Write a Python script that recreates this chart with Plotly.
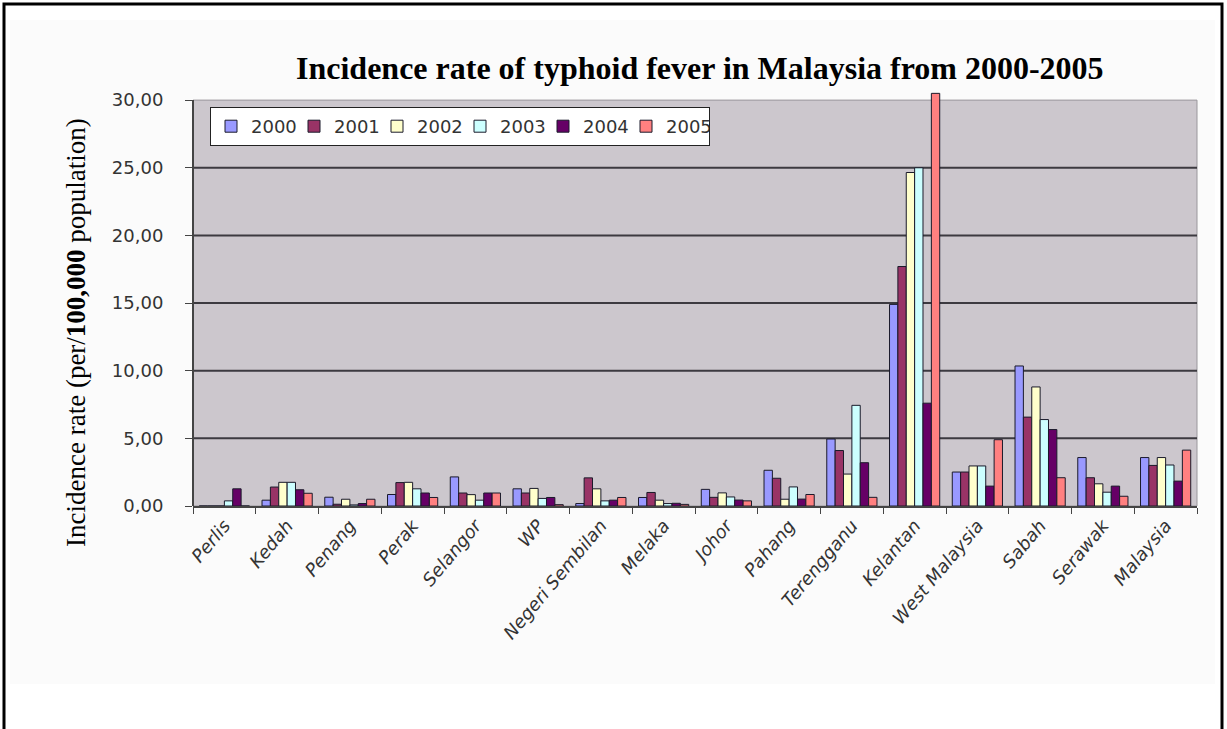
import plotly.graph_objects as go

# Typhoid fever incidence per 100,000 population, by state, 2000-2005
categories = ["Perlis", "Kedah", "Penang", "Perak", "Selangor", "WP",
              "Negeri Sembilan", "Melaka", "Johor", "Pahang", "Terengganu",
              "Kelantan", "West Malaysia", "Sabah", "Serawak", "Malaysia"]

years = ["2000", "2001", "2002", "2003", "2004", "2005"]

rate_2000 = [0.00, 0.43, 0.65, 0.85, 2.15, 1.27, 0.18, 0.63, 1.23, 2.64, 4.95, 14.90, 2.51, 10.35, 3.58, 3.58]
rate_2001 = [0.00, 1.40, 0.13, 1.73, 0.96, 0.96, 2.08, 1.00, 0.64, 2.05, 4.10, 17.70, 2.51, 6.57, 2.09, 3.00]
rate_2002 = [0.00, 1.75, 0.50, 1.75, 0.84, 1.30, 1.27, 0.43, 0.97, 0.50, 2.36, 24.65, 2.96, 8.80, 1.64, 3.58]
rate_2003 = [0.38, 1.75, 0.08, 1.27, 0.43, 0.56, 0.38, 0.18, 0.67, 1.41, 7.44, 25.00, 2.96, 6.39, 1.02, 3.03]
rate_2004 = [1.27, 1.20, 0.18, 0.96, 0.96, 0.63, 0.43, 0.20, 0.44, 0.51, 3.20, 7.60, 1.47, 5.65, 1.47, 1.84]
rate_2005 = [0.00, 0.94, 0.50, 0.63, 0.96, 0.10, 0.63, 0.12, 0.38, 0.85, 0.64, 30.50, 4.90, 2.09, 0.72, 4.13]

series = [rate_2000, rate_2001, rate_2002, rate_2003, rate_2004, rate_2005]
colors = ["#9999FF", "#993366", "#FFFFCC", "#CCFFFF", "#660066", "#FF8080"]

y_ticks = [0, 5, 10, 15, 20, 25, 30]
y_top = 30.6

# page layout in pixels
W, H = 1227, 729
L, R, T, B = 193, 1197, 92, 506
pw, ph = R - L, B - T


def px_x(x):
    return (x - L) / pw


def px_y(y):
    return (B - y) / ph


fig = go.Figure()
for name, vals, col in zip(years, series, colors):
    fig.add_trace(go.Bar(
        x=categories, y=vals, name=name,
        marker=dict(color=col, line=dict(color="#1a1a2a", width=1)),
    ))

shapes = [
    # faint chart area behind everything
    dict(type="rect", xref="paper", yref="paper",
         x0=px_x(10), x1=px_x(1215), y0=px_y(20), y1=px_y(684),
         fillcolor="#FBFBFB", line=dict(width=0), layer="below"),
    # grey plotting surface up to the 30 mark
    dict(type="rect", xref="paper", yref="y", x0=0, x1=1, y0=0, y1=30,
         fillcolor="#CCC7CD", line=dict(color="#9a979c", width=1), layer="below"),
]
for v in y_ticks[1:-1]:
    shapes.append(dict(type="line", xref="paper", yref="y", x0=0, x1=1, y0=v, y1=v,
                       line=dict(color="#3c3a40", width=2), layer="below"))
# outer frame of the page
shapes.append(dict(type="rect", xref="paper", yref="paper",
                   x0=px_x(4), x1=px_x(1222), y0=px_y(4), y1=px_y(735),
                   line=dict(color="black", width=3), fillcolor="rgba(0,0,0,0)",
                   layer="above"))

fig.update_layout(
    width=W, height=H,
    margin=dict(l=L, r=W - R, t=T, b=H - B, pad=0),
    paper_bgcolor="white",
    plot_bgcolor="rgba(0,0,0,0)",
    separators=",.",
    barmode="group",
    bargap=0.2,
    bargroupgap=0,
    shapes=shapes,
    font=dict(family="DejaVu Sans", color="#333333"),
    legend=dict(
        orientation="h", x=px_x(210), y=px_y(107), xanchor="left", yanchor="top",
        bgcolor="white", bordercolor="#222222", borderwidth=1,
        font=dict(family="DejaVu Sans", size=18, color="#333333"),
        itemwidth=30, entrywidth=38, entrywidthmode="pixels",
        traceorder="normal",
    ),
    annotations=[
        dict(text="<b>Incidence rate of typhoid fever in Malaysia from 2000-2005</b>",
             xref="paper", yref="paper", x=px_x(700), y=px_y(68),
             xanchor="center", yanchor="middle", showarrow=False,
             font=dict(family="Liberation Serif", size=32, color="black")),
        dict(text="Incidence rate (per/<b>100,000</b> population)",
             xref="paper", yref="paper", x=px_x(76), y=px_y(333),
             xanchor="center", yanchor="middle", showarrow=False, textangle=-90,
             font=dict(family="Liberation Serif", size=27, color="black")),
    ],
)

fig.update_xaxes(
    type="category", tickangle=-50, tickson="boundaries",
    ticks="outside", ticklen=6, tickcolor="#444444",
    showline=True, linecolor="#444444", linewidth=2,
    showgrid=False,
    tickfont=dict(family="DejaVu Sans", size=18, color="#333333", style="italic"),
)
fig.update_yaxes(
    range=[0, y_top], tickvals=y_ticks, tickformat=".2f",
    ticks="outside", ticklen=7, tickcolor="#444444",
    showline=False, showgrid=False, zeroline=False,
    ticklabelstandoff=18,
    tickfont=dict(family="DejaVu Sans", size=18, color="#333333"),
)
# left axis line only up to the 30 mark
fig.add_shape(type="line", xref="paper", yref="y", x0=0, x1=0, y0=0, y1=30,
              line=dict(color="#444444", width=2))

fig.write_html("out.html")
